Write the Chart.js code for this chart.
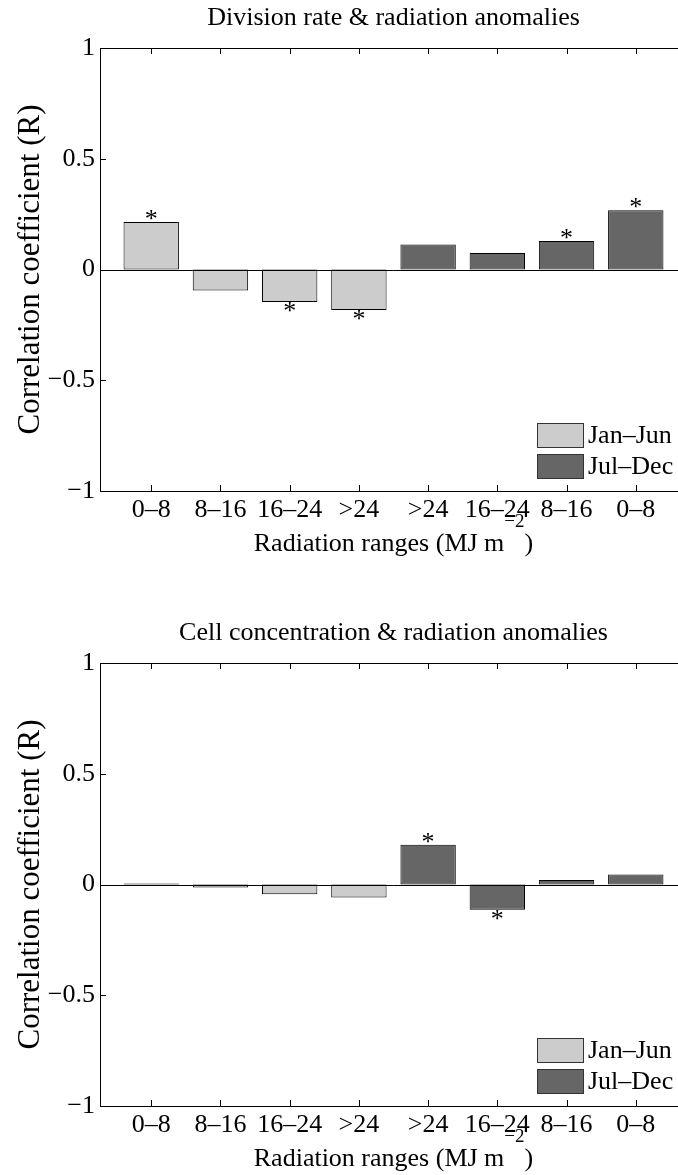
<!DOCTYPE html>
<html>
<head>
<meta charset="utf-8">
<title>Correlation with radiation anomalies</title>
<script src="https://cdn.jsdelivr.net/npm/chart.js@4.4.0/dist/chart.umd.min.js"></script>
<style>
  html, body { margin: 0; padding: 0; background: #fff; overflow: hidden; width: 678px; height: 1175px; }
  .panel { position: absolute; left: 0; }
  #panelA { top: 0; }
  #panelB { top: 615px; }
</style>
</head>
<body>
<div class="panel" id="panelA"><canvas id="chartA" width="700" height="615"></canvas></div>
<div class="panel" id="panelB"><canvas id="chartB" width="700" height="560"></canvas></div>
<script>
const categories = ['0–8', '8–16', '16–24', '>24', '>24', '16–24', '8–16', '0–8'];
const seasons = ['Jan–Jun', 'Jul–Dec'];
const yTicks = [-1, -0.5, 0, 0.5, 1];

// A: division rate vs radiation anomalies
const divJanJun = [0.215, -0.095, -0.147, -0.183];
const divJulDec = [0.113, 0.075, 0.129, 0.268];
const divSignif = [1, 0, 1, 1, 0, 0, 1, 1];

// B: cell concentration vs radiation anomalies
const cellJanJun = [0.004, -0.014, -0.044, -0.059];
const cellJulDec = [0.179, -0.114, 0.020, 0.045];
const cellSignif = [0, 0, 0, 0, 1, 1, 0, 0];

const FONT = '"Liberation Serif", "Times New Roman", serif';
Chart.defaults.font.family = FONT;
Chart.defaults.font.size = 26;
Chart.defaults.color = '#000';

// values -> {x, y} points, x is the category number (1..8)
let toPoints = (vals, first) => vals.map((v, i) => ({ x: first + i, y: v }));

/* box, zero line and inward tick marks like matlab */
const axesBox = {
  id: 'axesBox',
  afterDatasetsDraw(chart) {
    const { ctx, chartArea: a, scales: { x, y } } = chart;
    ctx.save();
    ctx.strokeStyle = '#000';
    ctx.lineWidth = 1;
    ctx.beginPath();
    const y0 = Math.round(y.getPixelForValue(0)) + 0.5;
    ctx.moveTo(a.left, y0);
    ctx.lineTo(a.right, y0);
    x.ticks.forEach(t => {
      const px = Math.round(x.getPixelForValue(t.value)) + 0.5;
      ctx.moveTo(px, a.bottom); ctx.lineTo(px, a.bottom - 6);
      ctx.moveTo(px, a.top); ctx.lineTo(px, a.top + 6);
    });
    y.ticks.forEach(t => {
      const py = Math.round(y.getPixelForValue(t.value)) + 0.5;
      ctx.moveTo(a.left, py); ctx.lineTo(a.left + 6, py);
      ctx.moveTo(a.right, py); ctx.lineTo(a.right - 6, py);
    });
    ctx.stroke();
    ctx.strokeRect(a.left + 0.5, a.top + 0.5, a.right - a.left, a.bottom - a.top);
    ctx.restore();
  }
};

/* asterisk over (or under) the significant bars */
let makeStars = (flags) => ({
  id: 'stars',
  afterDatasetsDraw(chart) {
    const ctx = chart.ctx;
    ctx.save();
    ctx.font = '26px ' + FONT;
    ctx.fillStyle = '#000';
    ctx.textAlign = 'center';
    ctx.textBaseline = 'alphabetic';
    const m = ctx.measureText('*');
    chart.data.datasets.forEach((ds, di) => {
      chart.getDatasetMeta(di).data.forEach((bar, i) => {
        const p = ds.data[i];
        if (!flags[p.x - 1]) return;
        let base;
        if (p.y >= 0) base = bar.y - 2 - m.actualBoundingBoxDescent;
        else base = bar.y + m.actualBoundingBoxAscent;
        ctx.fillText('*', bar.x, base);
      });
    });
    ctx.restore();
  }
});

/* legend in the lower right corner of the axes */
const seasonLegend = {
  id: 'seasonLegend',
  afterDraw(chart) {
    const ctx = chart.ctx;
    ctx.save();
    ctx.font = '26px ' + FONT;
    ctx.textBaseline = 'middle';
    chart.data.datasets.forEach((ds, i) => {
      const top = 423 + i * 31;
      ctx.fillStyle = ds.backgroundColor;
      ctx.fillRect(537, top, 46, 24);
      ctx.strokeStyle = '#333';
      ctx.lineWidth = 1;
      ctx.strokeRect(537.5, top + 0.5, 46, 24);
      ctx.fillStyle = '#000';
      ctx.fillText(ds.label, 588, top + 13);
    });
    ctx.restore();
  }
};

/* x label with the superscript */
const xTitle = {
  id: 'xTitle',
  afterDraw(chart) {
    const { ctx, chartArea: a } = chart;
    const main = 'Radiation ranges (MJ m', sup = '−2', tail = ')';
    ctx.save();
    ctx.fillStyle = '#000';
    ctx.textBaseline = 'alphabetic';
    ctx.textAlign = 'left';
    ctx.font = '26px ' + FONT;
    const w1 = ctx.measureText(main).width, w3 = ctx.measureText(tail).width;
    ctx.font = '19px ' + FONT;
    const w2 = ctx.measureText(sup).width;
    let x = (a.left + a.right) / 2 - (w1 + w2 + w3) / 2;
    const base = a.bottom + 60;
    ctx.font = '26px ' + FONT;
    ctx.fillText(main, x, base);
    x += w1;
    ctx.font = '19px ' + FONT;
    ctx.fillText(sup, x, base - 24);
    x += w2;
    ctx.font = '26px ' + FONT;
    ctx.fillText(tail, x, base);
    ctx.restore();
  }
};

let plot = (id, title, janJun, julDec, signif) => {
  const ctx = document.getElementById(id);
  const dataset = {
    datasets: [
      {
        label: seasons[0],
        data: toPoints(janJun, 1),
        backgroundColor: '#cccccc',
        borderColor: '#000',
        borderWidth: 1,
        borderSkipped: false,
        grouped: false,
        barPercentage: 0.8,
        categoryPercentage: 1.0,
      },
      {
        label: seasons[1],
        data: toPoints(julDec, 5),
        backgroundColor: '#666666',
        borderColor: '#000',
        borderWidth: 1,
        borderSkipped: false,
        grouped: false,
        barPercentage: 0.8,
        categoryPercentage: 1.0,
      },
    ],
  };
  const config = {
    type: 'bar',
    data: dataset,
    options: {
      responsive: false,
      animation: false,
      layout: { padding: { left: 0, right: 13, top: 0, bottom: 0 } },
      plugins: {
        legend: { display: false },
        tooltip: { enabled: false },
        title: {
          display: true,
          text: title,
          fullSize: false,
          color: '#000',
          font: { size: 26, weight: 'normal', family: FONT },
          padding: { top: 3, bottom: 13.8 },
        },
      },
      scales: {
        x: {
          type: 'linear',
          min: 0.26,
          max: 8.74,
          offset: false,
          grid: { display: false, drawTicks: false },
          border: { display: false },
          afterBuildTicks: (s) => { s.ticks = categories.map((c, i) => ({ value: i + 1 })); },
          afterFit: (s) => { s.height = s.chart.height - 491; },
          ticks: { autoSkip: false, maxRotation: 0, padding: 4, callback: (v) => categories[v - 1] },
        },
        y: {
          min: -1,
          max: 1,
          grid: { display: false, drawTicks: false },
          border: { display: false },
          afterBuildTicks: (s) => { s.ticks = yTicks.map(v => ({ value: v })); },
          afterFit: (s) => { s.width = 100; },
          ticks: { padding: 5, callback: (v) => v < 0 ? '−' + Math.abs(v) : String(v) },
          title: {
            display: true,
            text: 'Correlation coefficient (R)',
            font: { size: 31 },
            padding: { top: 12, bottom: 0 },
          },
        },
      },
    },
    plugins: [axesBox, makeStars(signif), seasonLegend, xTitle],
  };
  return new Chart(ctx, config);
};

plot('chartA', 'Division rate & radiation anomalies', divJanJun, divJulDec, divSignif);
plot('chartB', 'Cell concentration & radiation anomalies', cellJanJun, cellJulDec, cellSignif);
</script>
</body>
</html>
